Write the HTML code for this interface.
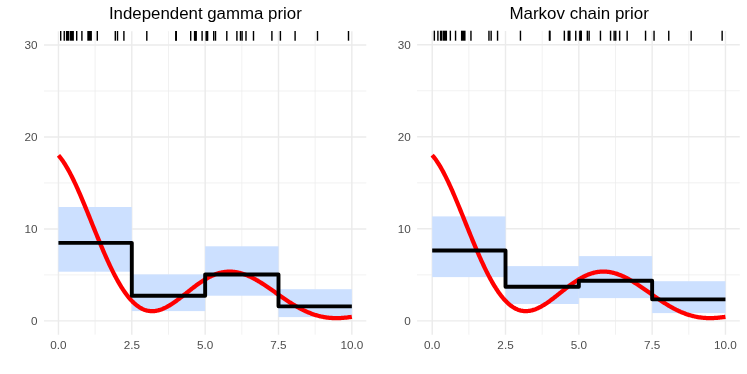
<!DOCTYPE html>
<html><head><meta charset="utf-8"><title>plot</title>
<style>
html,body{margin:0;padding:0;background:#fff;}
svg{display:block;}
text{font-family:"Liberation Sans",sans-serif;}
.ax{font-size:11.73px;fill:#4D4D4D;}
.ti{font-size:16.8px;fill:#000;}
</style></head><body>
<svg width="747" height="374" viewBox="0 0 747 374">
<defs><filter id="gs" filterUnits="userSpaceOnUse" x="0" y="0" width="747" height="374" color-interpolation-filters="sRGB"><feOffset dx="0" dy="0"/></filter></defs>
<rect width="747" height="374" fill="#fff"/>
<g>
<line x1="44.00" x2="366.30" y1="274.92" y2="274.92" stroke="#EBEBEB" stroke-width="0.71"/>
<line x1="44.00" x2="366.30" y1="182.95" y2="182.95" stroke="#EBEBEB" stroke-width="0.71"/>
<line x1="44.00" x2="366.30" y1="90.98" y2="90.98" stroke="#EBEBEB" stroke-width="0.71"/>
<line y1="31.20" y2="334.70" x1="95.12" x2="95.12" stroke="#EBEBEB" stroke-width="0.71"/>
<line y1="31.20" y2="334.70" x1="168.48" x2="168.48" stroke="#EBEBEB" stroke-width="0.71"/>
<line y1="31.20" y2="334.70" x1="241.83" x2="241.83" stroke="#EBEBEB" stroke-width="0.71"/>
<line y1="31.20" y2="334.70" x1="315.18" x2="315.18" stroke="#EBEBEB" stroke-width="0.71"/>
<line x1="44.00" x2="366.30" y1="320.90" y2="320.90" stroke="#EBEBEB" stroke-width="1.42"/>
<line x1="44.00" x2="366.30" y1="228.93" y2="228.93" stroke="#EBEBEB" stroke-width="1.42"/>
<line x1="44.00" x2="366.30" y1="136.97" y2="136.97" stroke="#EBEBEB" stroke-width="1.42"/>
<line x1="44.00" x2="366.30" y1="45.00" y2="45.00" stroke="#EBEBEB" stroke-width="1.42"/>
<line y1="31.20" y2="334.70" x1="58.45" x2="58.45" stroke="#EBEBEB" stroke-width="1.42"/>
<line y1="31.20" y2="334.70" x1="131.80" x2="131.80" stroke="#EBEBEB" stroke-width="1.42"/>
<line y1="31.20" y2="334.70" x1="205.15" x2="205.15" stroke="#EBEBEB" stroke-width="1.42"/>
<line y1="31.20" y2="334.70" x1="278.50" x2="278.50" stroke="#EBEBEB" stroke-width="1.42"/>
<line y1="31.20" y2="334.70" x1="351.85" x2="351.85" stroke="#EBEBEB" stroke-width="1.42"/>
<rect x="58.45" y="207.00" width="73.35" height="64.70" fill="#CCE0FF"/>
<rect x="131.80" y="274.40" width="73.35" height="36.70" fill="#CCE0FF"/>
<rect x="205.15" y="246.30" width="73.35" height="49.40" fill="#CCE0FF"/>
<rect x="278.50" y="289.20" width="73.35" height="27.90" fill="#CCE0FF"/>
<polyline points="58.45,155.36 59.18,156.21 59.92,157.10 60.65,158.03 61.38,159.00 62.12,160.01 62.85,161.05 63.58,162.14 64.32,163.26 65.05,164.42 65.78,165.61 66.52,166.83 67.25,168.09 67.99,169.39 68.72,170.71 69.45,172.06 70.19,173.45 70.92,174.86 71.65,176.30 72.39,177.77 73.12,179.26 73.85,180.78 74.59,182.32 75.32,183.89 76.05,185.48 76.79,187.09 77.52,188.71 78.25,190.36 78.99,192.03 79.72,193.71 80.46,195.41 81.19,197.12 81.92,198.85 82.66,200.59 83.39,202.35 84.12,204.11 84.86,205.88 85.59,207.67 86.32,209.46 87.06,211.26 87.79,213.06 88.52,214.87 89.26,216.68 89.99,218.50 90.72,220.31 91.46,222.13 92.19,223.95 92.92,225.77 93.66,227.59 94.39,229.40 95.12,231.21 95.86,233.02 96.59,234.82 97.33,236.61 98.06,238.40 98.79,240.17 99.53,241.94 100.26,243.70 100.99,245.45 101.73,247.19 102.46,248.92 103.19,250.63 103.93,252.33 104.66,254.01 105.39,255.68 106.13,257.33 106.86,258.97 107.59,260.59 108.33,262.19 109.06,263.77 109.80,265.34 110.53,266.88 111.26,268.40 112.00,269.90 112.73,271.38 113.46,272.84 114.20,274.28 114.93,275.69 115.66,277.08 116.40,278.44 117.13,279.78 117.86,281.09 118.60,282.38 119.33,283.65 120.06,284.88 120.80,286.09 121.53,287.27 122.26,288.43 123.00,289.56 123.73,290.66 124.47,291.73 125.20,292.78 125.93,293.79 126.67,294.78 127.40,295.74 128.13,296.67 128.87,297.57 129.60,298.44 130.33,299.28 131.07,300.09 131.80,300.87 132.53,301.63 133.27,302.35 134.00,303.04 134.73,303.71 135.47,304.34 136.20,304.95 136.93,305.53 137.67,306.07 138.40,306.59 139.13,307.08 139.87,307.54 140.60,307.97 141.34,308.37 142.07,308.75 142.80,309.09 143.54,309.41 144.27,309.70 145.00,309.96 145.74,310.20 146.47,310.41 147.20,310.59 147.94,310.74 148.67,310.87 149.40,310.98 150.14,311.05 150.87,311.11 151.60,311.14 152.34,311.14 153.07,311.12 153.81,311.08 154.54,311.01 155.27,310.92 156.01,310.81 156.74,310.68 157.47,310.52 158.21,310.35 158.94,310.15 159.67,309.94 160.41,309.70 161.14,309.45 161.87,309.18 162.61,308.89 163.34,308.58 164.07,308.25 164.81,307.91 165.54,307.56 166.27,307.18 167.01,306.80 167.74,306.39 168.48,305.98 169.21,305.55 169.94,305.11 170.68,304.66 171.41,304.19 172.14,303.72 172.88,303.23 173.61,302.73 174.34,302.23 175.08,301.71 175.81,301.19 176.54,300.66 177.28,300.12 178.01,299.58 178.74,299.03 179.48,298.47 180.21,297.91 180.94,297.34 181.68,296.77 182.41,296.20 183.15,295.62 183.88,295.05 184.61,294.47 185.35,293.88 186.08,293.30 186.81,292.72 187.55,292.14 188.28,291.55 189.01,290.97 189.75,290.39 190.48,289.82 191.21,289.24 191.95,288.67 192.68,288.11 193.41,287.54 194.15,286.98 194.88,286.43 195.61,285.88 196.35,285.33 197.08,284.80 197.81,284.27 198.55,283.74 199.28,283.23 200.02,282.72 200.75,282.21 201.48,281.72 202.22,281.24 202.95,280.76 203.68,280.30 204.42,279.84 205.15,279.39 205.88,278.96 206.62,278.53 207.35,278.12 208.08,277.71 208.82,277.32 209.55,276.94 210.28,276.57 211.02,276.21 211.75,275.87 212.49,275.54 213.22,275.22 213.95,274.91 214.69,274.62 215.42,274.34 216.15,274.07 216.89,273.81 217.62,273.57 218.35,273.35 219.09,273.13 219.82,272.93 220.55,272.75 221.29,272.58 222.02,272.42 222.75,272.28 223.49,272.15 224.22,272.04 224.95,271.94 225.69,271.85 226.42,271.78 227.16,271.72 227.89,271.68 228.62,271.65 229.36,271.63 230.09,271.63 230.82,271.65 231.56,271.68 232.29,271.72 233.02,271.77 233.76,271.84 234.49,271.93 235.22,272.02 235.96,272.13 236.69,272.26 237.42,272.39 238.16,272.54 238.89,272.71 239.62,272.88 240.36,273.07 241.09,273.27 241.83,273.49 242.56,273.71 243.29,273.95 244.03,274.20 244.76,274.46 245.49,274.73 246.23,275.02 246.96,275.31 247.69,275.62 248.43,275.93 249.16,276.26 249.89,276.59 250.63,276.94 251.36,277.29 252.09,277.66 252.83,278.03 253.56,278.42 254.29,278.81 255.03,279.21 255.76,279.61 256.50,280.03 257.23,280.45 257.96,280.88 258.70,281.32 259.43,281.76 260.16,282.21 260.90,282.67 261.63,283.13 262.36,283.60 263.10,284.07 263.83,284.55 264.56,285.03 265.30,285.52 266.03,286.01 266.76,286.50 267.50,287.00 268.23,287.50 268.96,288.00 269.70,288.51 270.43,289.02 271.17,289.53 271.90,290.04 272.63,290.56 273.37,291.07 274.10,291.59 274.83,292.11 275.57,292.62 276.30,293.14 277.03,293.66 277.77,294.18 278.50,294.69 279.23,295.21 279.97,295.72 280.70,296.24 281.43,296.75 282.17,297.26 282.90,297.76 283.63,298.27 284.37,298.77 285.10,299.27 285.84,299.76 286.57,300.26 287.30,300.74 288.04,301.23 288.77,301.71 289.50,302.19 290.24,302.66 290.97,303.13 291.70,303.59 292.44,304.05 293.17,304.50 293.90,304.94 294.64,305.39 295.37,305.82 296.10,306.25 296.84,306.67 297.57,307.09 298.30,307.50 299.04,307.90 299.77,308.30 300.51,308.69 301.24,309.08 301.97,309.45 302.71,309.82 303.44,310.18 304.17,310.54 304.91,310.88 305.64,311.22 306.37,311.56 307.11,311.88 307.84,312.19 308.57,312.50 309.31,312.80 310.04,313.09 310.77,313.38 311.51,313.65 312.24,313.92 312.97,314.18 313.71,314.43 314.44,314.67 315.18,314.91 315.91,315.13 316.64,315.35 317.38,315.56 318.11,315.76 318.84,315.95 319.58,316.13 320.31,316.31 321.04,316.47 321.78,316.63 322.51,316.78 323.24,316.92 323.98,317.06 324.71,317.18 325.44,317.30 326.18,317.41 326.91,317.51 327.64,317.60 328.38,317.69 329.11,317.77 329.85,317.84 330.58,317.90 331.31,317.95 332.05,318.00 332.78,318.04 333.51,318.07 334.25,318.09 334.98,318.11 335.71,318.12 336.45,318.13 337.18,318.12 337.91,318.11 338.65,318.10 339.38,318.07 340.11,318.04 340.85,318.01 341.58,317.96 342.31,317.92 343.05,317.86 343.78,317.80 344.52,317.74 345.25,317.67 345.98,317.59 346.72,317.51 347.45,317.43 348.18,317.33 348.92,317.24 349.65,317.14 350.38,317.03 351.12,316.93 351.85,316.81" fill="none" stroke="#FF0000" stroke-width="4.27" stroke-linejoin="round" stroke-linecap="butt"/>
<path d="M58.45,242.85 H131.80 V295.80 H205.15 V274.55 H278.50 V306.35 H351.85" fill="none" stroke="#000" stroke-width="3.9" stroke-linejoin="round" stroke-linecap="butt"/>
<line x1="60.70" x2="60.70" y1="31.00" y2="40.70" stroke="#000" stroke-width="1.42"/>
<line x1="64.25" x2="64.25" y1="31.00" y2="40.70" stroke="#000" stroke-width="1.42"/>
<rect x="65.90" y="31.00" width="3.20" height="9.70" fill="#000"/>
<rect x="69.65" y="31.00" width="4.25" height="9.70" fill="#000"/>
<line x1="76.70" x2="76.70" y1="31.00" y2="40.70" stroke="#000" stroke-width="1.42"/>
<line x1="81.90" x2="81.90" y1="31.00" y2="40.70" stroke="#000" stroke-width="1.42"/>
<rect x="87.30" y="31.00" width="4.60" height="9.70" fill="#000"/>
<line x1="97.30" x2="97.30" y1="31.00" y2="40.70" stroke="#000" stroke-width="1.42"/>
<line x1="115.30" x2="115.30" y1="31.00" y2="40.70" stroke="#000" stroke-width="1.42"/>
<line x1="117.50" x2="117.50" y1="31.00" y2="40.70" stroke="#000" stroke-width="1.42"/>
<line x1="123.90" x2="123.90" y1="31.00" y2="40.70" stroke="#000" stroke-width="1.42"/>
<line x1="146.80" x2="146.80" y1="31.00" y2="40.70" stroke="#000" stroke-width="1.42"/>
<line x1="175.80" x2="175.80" y1="31.00" y2="40.70" stroke="#000" stroke-width="1.42"/>
<line x1="176.30" x2="176.30" y1="31.00" y2="40.70" stroke="#000" stroke-width="1.42"/>
<line x1="190.70" x2="190.70" y1="31.00" y2="40.70" stroke="#000" stroke-width="1.42"/>
<line x1="194.60" x2="194.60" y1="31.00" y2="40.70" stroke="#000" stroke-width="1.42"/>
<line x1="195.40" x2="195.40" y1="31.00" y2="40.70" stroke="#000" stroke-width="1.42"/>
<line x1="196.20" x2="196.20" y1="31.00" y2="40.70" stroke="#000" stroke-width="1.42"/>
<line x1="202.10" x2="202.10" y1="31.00" y2="40.70" stroke="#000" stroke-width="1.42"/>
<line x1="206.20" x2="206.20" y1="31.00" y2="40.70" stroke="#000" stroke-width="1.42"/>
<line x1="207.00" x2="207.00" y1="31.00" y2="40.70" stroke="#000" stroke-width="1.42"/>
<line x1="207.60" x2="207.60" y1="31.00" y2="40.70" stroke="#000" stroke-width="1.42"/>
<line x1="213.70" x2="213.70" y1="31.00" y2="40.70" stroke="#000" stroke-width="1.42"/>
<line x1="215.50" x2="215.50" y1="31.00" y2="40.70" stroke="#000" stroke-width="1.42"/>
<line x1="226.80" x2="226.80" y1="31.00" y2="40.70" stroke="#000" stroke-width="1.42"/>
<line x1="236.90" x2="236.90" y1="31.00" y2="40.70" stroke="#000" stroke-width="1.42"/>
<line x1="240.50" x2="240.50" y1="31.00" y2="40.70" stroke="#000" stroke-width="1.42"/>
<line x1="242.10" x2="242.10" y1="31.00" y2="40.70" stroke="#000" stroke-width="1.42"/>
<line x1="246.00" x2="246.00" y1="31.00" y2="40.70" stroke="#000" stroke-width="1.42"/>
<line x1="253.50" x2="253.50" y1="31.00" y2="40.70" stroke="#000" stroke-width="1.42"/>
<line x1="271.90" x2="271.90" y1="31.00" y2="40.70" stroke="#000" stroke-width="1.42"/>
<line x1="280.40" x2="280.40" y1="31.00" y2="40.70" stroke="#000" stroke-width="1.42"/>
<line x1="295.10" x2="295.10" y1="31.00" y2="40.70" stroke="#000" stroke-width="1.42"/>
<line x1="317.50" x2="317.50" y1="31.00" y2="40.70" stroke="#000" stroke-width="1.42"/>
<line x1="348.50" x2="348.50" y1="31.00" y2="40.70" stroke="#000" stroke-width="1.42"/>
<g filter="url(#gs)">
<text class="ax" x="37.50" y="324.80" text-anchor="end">0</text>
<text class="ax" x="37.50" y="232.83" text-anchor="end">10</text>
<text class="ax" x="37.50" y="140.87" text-anchor="end">20</text>
<text class="ax" x="37.50" y="48.90" text-anchor="end">30</text>
<text class="ax" x="58.45" y="349.40" text-anchor="middle">0.0</text>
<text class="ax" x="131.80" y="349.40" text-anchor="middle">2.5</text>
<text class="ax" x="205.15" y="349.40" text-anchor="middle">5.0</text>
<text class="ax" x="278.50" y="349.40" text-anchor="middle">7.5</text>
<text class="ax" x="351.85" y="349.40" text-anchor="middle">10.0</text>
<text class="ti" style="font-size:16.85px" x="205.35" y="19.1" text-anchor="middle">Independent gamma prior</text>
</g>
</g>
<g>
<line x1="417.10" x2="739.80" y1="274.86" y2="274.86" stroke="#EBEBEB" stroke-width="0.71"/>
<line x1="417.10" x2="739.80" y1="182.80" y2="182.80" stroke="#EBEBEB" stroke-width="0.71"/>
<line x1="417.10" x2="739.80" y1="90.74" y2="90.74" stroke="#EBEBEB" stroke-width="0.71"/>
<line y1="30.90" y2="334.70" x1="468.86" x2="468.86" stroke="#EBEBEB" stroke-width="0.71"/>
<line y1="30.90" y2="334.70" x1="542.17" x2="542.17" stroke="#EBEBEB" stroke-width="0.71"/>
<line y1="30.90" y2="334.70" x1="615.48" x2="615.48" stroke="#EBEBEB" stroke-width="0.71"/>
<line y1="30.90" y2="334.70" x1="688.79" x2="688.79" stroke="#EBEBEB" stroke-width="0.71"/>
<line x1="417.10" x2="739.80" y1="320.89" y2="320.89" stroke="#EBEBEB" stroke-width="1.42"/>
<line x1="417.10" x2="739.80" y1="228.83" y2="228.83" stroke="#EBEBEB" stroke-width="1.42"/>
<line x1="417.10" x2="739.80" y1="136.77" y2="136.77" stroke="#EBEBEB" stroke-width="1.42"/>
<line x1="417.10" x2="739.80" y1="44.71" y2="44.71" stroke="#EBEBEB" stroke-width="1.42"/>
<line y1="30.90" y2="334.70" x1="432.20" x2="432.20" stroke="#EBEBEB" stroke-width="1.42"/>
<line y1="30.90" y2="334.70" x1="505.51" x2="505.51" stroke="#EBEBEB" stroke-width="1.42"/>
<line y1="30.90" y2="334.70" x1="578.83" x2="578.83" stroke="#EBEBEB" stroke-width="1.42"/>
<line y1="30.90" y2="334.70" x1="652.14" x2="652.14" stroke="#EBEBEB" stroke-width="1.42"/>
<line y1="30.90" y2="334.70" x1="725.45" x2="725.45" stroke="#EBEBEB" stroke-width="1.42"/>
<rect x="432.20" y="216.40" width="73.31" height="60.70" fill="#CCE0FF"/>
<rect x="505.51" y="266.10" width="73.31" height="37.90" fill="#CCE0FF"/>
<rect x="578.83" y="256.10" width="73.31" height="42.00" fill="#CCE0FF"/>
<rect x="652.14" y="281.20" width="73.31" height="31.90" fill="#CCE0FF"/>
<polyline points="432.20,155.18 432.93,156.03 433.67,156.92 434.40,157.85 435.13,158.82 435.87,159.83 436.60,160.88 437.33,161.97 438.06,163.09 438.80,164.25 439.53,165.44 440.26,166.67 441.00,167.93 441.73,169.22 442.46,170.55 443.20,171.90 443.93,173.29 444.66,174.70 445.40,176.15 446.13,177.61 446.86,179.11 447.60,180.63 448.33,182.17 449.06,183.74 449.80,185.33 450.53,186.94 451.26,188.57 451.99,190.22 452.73,191.89 453.46,193.57 454.19,195.27 454.93,196.99 455.66,198.72 456.39,200.46 457.13,202.21 457.86,203.98 458.59,205.76 459.33,207.54 460.06,209.33 460.79,211.13 461.52,212.94 462.26,214.75 462.99,216.56 463.72,218.38 464.46,220.20 465.19,222.02 465.92,223.84 466.66,225.66 467.39,227.48 468.12,229.30 468.86,231.11 469.59,232.92 470.32,234.72 471.06,236.51 471.79,238.30 472.52,240.08 473.25,241.85 473.99,243.61 474.72,245.36 475.45,247.10 476.19,248.83 476.92,250.55 477.65,252.25 478.39,253.93 479.12,255.60 479.85,257.26 480.59,258.90 481.32,260.52 482.05,262.12 482.79,263.70 483.52,265.27 484.25,266.81 484.99,268.34 485.72,269.84 486.45,271.32 487.18,272.78 487.92,274.22 488.65,275.63 489.38,277.02 490.12,278.38 490.85,279.73 491.58,281.04 492.32,282.33 493.05,283.59 493.78,284.83 494.52,286.04 495.25,287.23 495.98,288.39 496.72,289.51 497.45,290.62 498.18,291.69 498.91,292.74 499.65,293.75 500.38,294.74 501.11,295.70 501.85,296.63 502.58,297.53 503.31,298.40 504.05,299.24 504.78,300.06 505.51,300.84 506.25,301.59 506.98,302.32 507.71,303.01 508.44,303.68 509.18,304.31 509.91,304.92 510.64,305.50 511.38,306.04 512.11,306.56 512.84,307.05 513.58,307.51 514.31,307.94 515.04,308.35 515.78,308.72 516.51,309.07 517.24,309.38 517.98,309.67 518.71,309.94 519.44,310.17 520.17,310.38 520.91,310.56 521.64,310.72 522.37,310.85 523.11,310.95 523.84,311.03 524.57,311.08 525.31,311.11 526.04,311.12 526.77,311.10 527.51,311.05 528.24,310.99 528.97,310.90 529.71,310.79 530.44,310.65 531.17,310.50 531.90,310.32 532.64,310.13 533.37,309.91 534.10,309.68 534.84,309.42 535.57,309.15 536.30,308.86 537.04,308.55 537.77,308.23 538.50,307.89 539.24,307.53 539.97,307.16 540.70,306.77 541.44,306.37 542.17,305.95 542.90,305.52 543.63,305.08 544.37,304.63 545.10,304.16 545.83,303.68 546.57,303.20 547.30,302.70 548.03,302.19 548.77,301.68 549.50,301.16 550.23,300.62 550.97,300.09 551.70,299.54 552.43,298.99 553.17,298.43 553.90,297.87 554.63,297.31 555.37,296.74 556.10,296.16 556.83,295.58 557.56,295.01 558.30,294.43 559.03,293.84 559.76,293.26 560.50,292.68 561.23,292.09 561.96,291.51 562.70,290.93 563.43,290.35 564.16,289.77 564.90,289.20 565.63,288.63 566.36,288.06 567.10,287.49 567.83,286.93 568.56,286.38 569.29,285.83 570.03,285.29 570.76,284.75 571.49,284.22 572.23,283.69 572.96,283.17 573.69,282.66 574.43,282.16 575.16,281.67 575.89,281.18 576.63,280.71 577.36,280.24 578.09,279.79 578.83,279.34 579.56,278.90 580.29,278.48 581.02,278.06 581.76,277.66 582.49,277.26 583.22,276.88 583.96,276.51 584.69,276.16 585.42,275.81 586.16,275.48 586.89,275.16 587.62,274.85 588.36,274.56 589.09,274.28 589.82,274.01 590.56,273.75 591.29,273.51 592.02,273.29 592.75,273.07 593.49,272.87 594.22,272.69 594.95,272.52 595.69,272.36 596.42,272.22 597.15,272.09 597.89,271.97 598.62,271.87 599.35,271.79 600.09,271.72 600.82,271.66 601.55,271.62 602.29,271.59 603.02,271.57 603.75,271.57 604.48,271.59 605.22,271.61 605.95,271.66 606.68,271.71 607.42,271.78 608.15,271.86 608.88,271.96 609.62,272.07 610.35,272.20 611.08,272.33 611.82,272.48 612.55,272.65 613.28,272.82 614.02,273.01 614.75,273.21 615.48,273.43 616.21,273.65 616.95,273.89 617.68,274.14 618.41,274.40 619.15,274.67 619.88,274.96 620.61,275.25 621.35,275.56 622.08,275.87 622.81,276.20 623.55,276.54 624.28,276.88 625.01,277.24 625.75,277.60 626.48,277.98 627.21,278.36 627.94,278.75 628.68,279.15 629.41,279.56 630.14,279.98 630.88,280.40 631.61,280.83 632.34,281.27 633.08,281.71 633.81,282.16 634.54,282.62 635.28,283.08 636.01,283.55 636.74,284.02 637.48,284.50 638.21,284.98 638.94,285.47 639.67,285.96 640.41,286.45 641.14,286.95 641.87,287.45 642.61,287.96 643.34,288.46 644.07,288.97 644.81,289.48 645.54,290.00 646.27,290.51 647.01,291.03 647.74,291.55 648.47,292.06 649.21,292.58 649.94,293.10 650.67,293.62 651.40,294.14 652.14,294.65 652.87,295.17 653.60,295.68 654.34,296.20 655.07,296.71 655.80,297.22 656.54,297.73 657.27,298.23 658.00,298.73 658.74,299.23 659.47,299.73 660.20,300.22 660.94,300.71 661.67,301.20 662.40,301.68 663.13,302.15 663.87,302.63 664.60,303.09 665.33,303.56 666.07,304.02 666.80,304.47 667.53,304.91 668.27,305.36 669.00,305.79 669.73,306.22 670.47,306.65 671.20,307.06 671.93,307.47 672.66,307.88 673.40,308.28 674.13,308.67 674.86,309.05 675.60,309.43 676.33,309.80 677.06,310.16 677.80,310.51 678.53,310.86 679.26,311.20 680.00,311.53 680.73,311.86 681.46,312.17 682.20,312.48 682.93,312.78 683.66,313.07 684.39,313.36 685.13,313.63 685.86,313.90 686.59,314.16 687.33,314.41 688.06,314.65 688.79,314.89 689.53,315.11 690.26,315.33 690.99,315.54 691.73,315.74 692.46,315.93 693.19,316.11 693.93,316.29 694.66,316.46 695.39,316.62 696.12,316.77 696.86,316.91 697.59,317.04 698.32,317.17 699.06,317.28 699.79,317.39 700.52,317.49 701.26,317.59 701.99,317.67 702.72,317.75 703.46,317.82 704.19,317.88 704.92,317.94 705.66,317.98 706.39,318.02 707.12,318.05 707.86,318.08 708.59,318.10 709.32,318.11 710.05,318.11 710.79,318.11 711.52,318.10 712.25,318.08 712.99,318.06 713.72,318.03 714.45,317.99 715.19,317.95 715.92,317.90 716.65,317.85 717.39,317.79 718.12,317.72 718.85,317.65 719.59,317.58 720.32,317.49 721.05,317.41 721.78,317.32 722.52,317.22 723.25,317.12 723.98,317.02 724.72,316.91 725.45,316.80" fill="none" stroke="#FF0000" stroke-width="4.27" stroke-linejoin="round" stroke-linecap="butt"/>
<path d="M432.20,250.50 H505.51 V286.80 H578.83 V280.80 H652.14 V299.35 H725.45" fill="none" stroke="#000" stroke-width="3.9" stroke-linejoin="round" stroke-linecap="butt"/>
<line x1="434.35" x2="434.35" y1="30.70" y2="40.70" stroke="#000" stroke-width="1.42"/>
<line x1="437.90" x2="437.90" y1="30.70" y2="40.70" stroke="#000" stroke-width="1.42"/>
<rect x="439.90" y="30.70" width="2.55" height="10.00" fill="#000"/>
<rect x="442.85" y="30.70" width="4.20" height="10.00" fill="#000"/>
<line x1="450.35" x2="450.35" y1="30.70" y2="40.70" stroke="#000" stroke-width="1.42"/>
<line x1="455.55" x2="455.55" y1="30.70" y2="40.70" stroke="#000" stroke-width="1.42"/>
<rect x="460.95" y="30.70" width="4.60" height="10.00" fill="#000"/>
<line x1="470.95" x2="470.95" y1="30.70" y2="40.70" stroke="#000" stroke-width="1.42"/>
<line x1="488.95" x2="488.95" y1="30.70" y2="40.70" stroke="#000" stroke-width="1.42"/>
<line x1="491.15" x2="491.15" y1="30.70" y2="40.70" stroke="#000" stroke-width="1.42"/>
<line x1="497.55" x2="497.55" y1="30.70" y2="40.70" stroke="#000" stroke-width="1.42"/>
<line x1="520.45" x2="520.45" y1="30.70" y2="40.70" stroke="#000" stroke-width="1.42"/>
<line x1="549.45" x2="549.45" y1="30.70" y2="40.70" stroke="#000" stroke-width="1.42"/>
<line x1="549.95" x2="549.95" y1="30.70" y2="40.70" stroke="#000" stroke-width="1.42"/>
<line x1="564.35" x2="564.35" y1="30.70" y2="40.70" stroke="#000" stroke-width="1.42"/>
<line x1="568.25" x2="568.25" y1="30.70" y2="40.70" stroke="#000" stroke-width="1.42"/>
<line x1="569.05" x2="569.05" y1="30.70" y2="40.70" stroke="#000" stroke-width="1.42"/>
<line x1="569.85" x2="569.85" y1="30.70" y2="40.70" stroke="#000" stroke-width="1.42"/>
<line x1="575.75" x2="575.75" y1="30.70" y2="40.70" stroke="#000" stroke-width="1.42"/>
<line x1="579.85" x2="579.85" y1="30.70" y2="40.70" stroke="#000" stroke-width="1.42"/>
<line x1="580.65" x2="580.65" y1="30.70" y2="40.70" stroke="#000" stroke-width="1.42"/>
<line x1="581.25" x2="581.25" y1="30.70" y2="40.70" stroke="#000" stroke-width="1.42"/>
<line x1="587.35" x2="587.35" y1="30.70" y2="40.70" stroke="#000" stroke-width="1.42"/>
<line x1="589.15" x2="589.15" y1="30.70" y2="40.70" stroke="#000" stroke-width="1.42"/>
<line x1="600.45" x2="600.45" y1="30.70" y2="40.70" stroke="#000" stroke-width="1.42"/>
<line x1="610.55" x2="610.55" y1="30.70" y2="40.70" stroke="#000" stroke-width="1.42"/>
<line x1="614.15" x2="614.15" y1="30.70" y2="40.70" stroke="#000" stroke-width="1.42"/>
<line x1="615.75" x2="615.75" y1="30.70" y2="40.70" stroke="#000" stroke-width="1.42"/>
<line x1="619.65" x2="619.65" y1="30.70" y2="40.70" stroke="#000" stroke-width="1.42"/>
<line x1="627.15" x2="627.15" y1="30.70" y2="40.70" stroke="#000" stroke-width="1.42"/>
<line x1="645.55" x2="645.55" y1="30.70" y2="40.70" stroke="#000" stroke-width="1.42"/>
<line x1="654.05" x2="654.05" y1="30.70" y2="40.70" stroke="#000" stroke-width="1.42"/>
<line x1="668.75" x2="668.75" y1="30.70" y2="40.70" stroke="#000" stroke-width="1.42"/>
<line x1="691.15" x2="691.15" y1="30.70" y2="40.70" stroke="#000" stroke-width="1.42"/>
<line x1="722.15" x2="722.15" y1="30.70" y2="40.70" stroke="#000" stroke-width="1.42"/>
<g filter="url(#gs)">
<text class="ax" x="410.80" y="324.79" text-anchor="end">0</text>
<text class="ax" x="410.80" y="232.73" text-anchor="end">10</text>
<text class="ax" x="410.80" y="140.67" text-anchor="end">20</text>
<text class="ax" x="410.80" y="48.61" text-anchor="end">30</text>
<text class="ax" x="432.20" y="349.40" text-anchor="middle">0.0</text>
<text class="ax" x="505.51" y="349.40" text-anchor="middle">2.5</text>
<text class="ax" x="578.83" y="349.40" text-anchor="middle">5.0</text>
<text class="ax" x="652.14" y="349.40" text-anchor="middle">7.5</text>
<text class="ax" x="725.45" y="349.40" text-anchor="middle">10.0</text>
<text class="ti" style="font-size:16.95px" x="579.12" y="19.1" text-anchor="middle">Markov chain prior</text>
</g>
</g>
</svg></body></html>
